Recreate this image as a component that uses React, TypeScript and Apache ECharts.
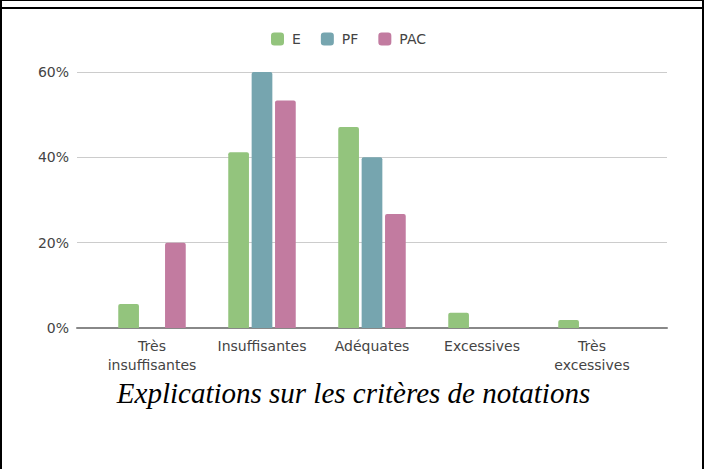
import React, { useEffect, useRef } from "react";
import * as echarts from "echarts";

const categories = ["Très\ninsuffisantes", "Insuffisantes", "Adéquates", "Excessives", "Très\nexcessives"];
const seriesNames = ["E", "PF", "PAC"];
const valuesE = [5.6, 41.2, 47.1, 3.6, 1.9];
const valuesPF = [0, 60, 40, 0, 0];
const valuesPAC = [20, 53.3, 26.7, 0, 0];
const colors = ["#93c47d", "#76a5af", "#c27ba0"];
const yTicks = { min: 0, max: 60, interval: 20 };
const titleText = "Explications sur les critères de notations";

export default function App() {
  const ref = useRef<HTMLDivElement>(null);
  useEffect(() => {
    document.body.style.margin = "0";
    const chart = echarts.init(ref.current!, null, { renderer: "svg" });
    const data = [valuesE, valuesPF, valuesPAC];
    const labelStyle = { fontFamily: "DejaVu Sans", fontSize: 14, color: "#444" };
    chart.setOption({
      animation: false,
      legend: {
        top: 32,
        left: 271,
        padding: 0,
        itemWidth: 13,
        itemHeight: 13,
        itemGap: 20,
        icon: "roundRect",
        textStyle: { ...labelStyle, color: "#444", padding: [0, 0, 0, 3] },
        data: seriesNames,
      },
      title: {
        text: titleText,
        left: "center",
        top: 373,
        textStyle: { fontFamily: "Liberation Serif", fontStyle: "italic", fontWeight: "normal", fontSize: 29, color: "#000" },
      },
      grid: [
        { left: 77, right: 40, top: 72, bottom: 141 },
        { left: 97, right: 60, top: 72, bottom: 141 },
      ],
      xAxis: [
        {
          type: "category",
          gridIndex: 0,
          data: categories,
          axisLine: { lineStyle: { color: "#888", width: 2 } },
          axisTick: { show: false },
          axisLabel: { show: false },
        },
        {
          type: "category",
          gridIndex: 1,
          data: categories,
          axisLine: { show: false },
          axisTick: { show: false },
          axisLabel: { ...labelStyle, margin: 8, lineHeight: 19, interval: 0 },
        },
      ],
      yAxis: [
        {
          type: "value",
          gridIndex: 0,
          ...yTicks,
          axisLabel: { ...labelStyle, margin: 8, formatter: "{value}%" },
          splitLine: { lineStyle: { color: "#ccc", width: 1 } },
          axisLine: { show: false },
          axisTick: { show: false },
        },
        {
          type: "value",
          gridIndex: 1,
          ...yTicks,
          show: false,
          splitLine: { show: false },
        },
      ],
      series: seriesNames.map((name, i) => ({
        name,
        type: "bar",
        xAxisIndex: 1,
        yAxisIndex: 1,
        data: data[i],
        barWidth: 20.7,
        barGap: "13%",
        itemStyle: { color: colors[i], borderRadius: [2, 2, 0, 0] },
      })),
      graphic: [
        { type: "line", shape: { x1: 0, y1: 0.5, x2: 704, y2: 0.5 }, style: { stroke: "#000", lineWidth: 1 } },
        { type: "line", shape: { x1: 0, y1: 8, x2: 704, y2: 8 }, style: { stroke: "#000", lineWidth: 2 } },
        { type: "line", shape: { x1: 1, y1: 0, x2: 1, y2: 469 }, style: { stroke: "#000", lineWidth: 2 } },
        { type: "line", shape: { x1: 703, y1: 0, x2: 703, y2: 469 }, style: { stroke: "#000", lineWidth: 2 } },
      ],
    });
    return () => chart.dispose();
  }, []);
  return <div ref={ref} style={{ width: 707, height: 469 }} />;
}
